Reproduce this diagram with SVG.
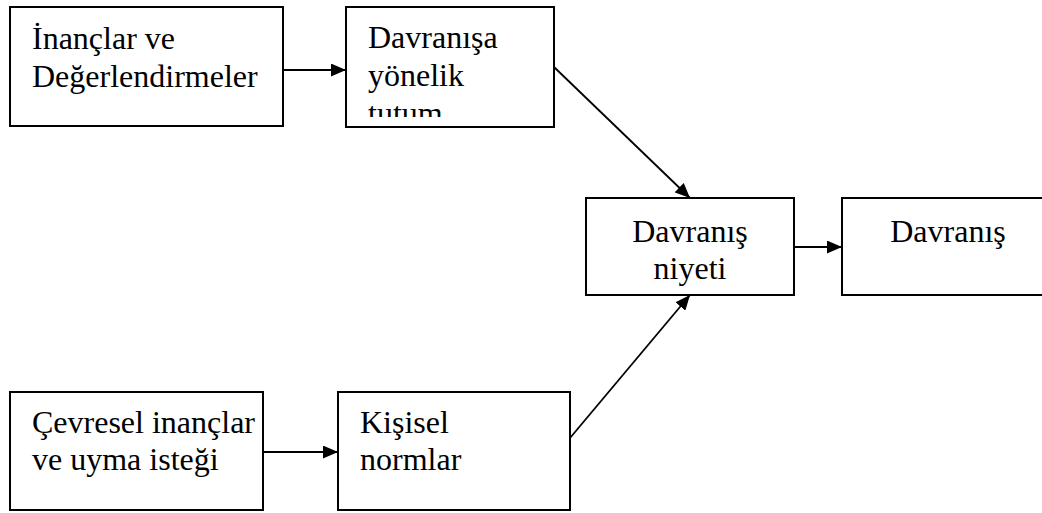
<svg xmlns="http://www.w3.org/2000/svg" width="1042" height="513" viewBox="0 0 1042 513">
  <style>
    .box { fill: #fff; stroke: #000; stroke-width: 2; }
    .lbl { font-family: "Liberation Serif", "Times New Roman", serif; font-size: 32px; fill: #000; }
    .mid { text-anchor: middle; }
    .link { fill: none; stroke: #000; stroke-width: 1.8; marker-end: url(#arrow); }
  </style>
  <defs>
    <marker id="arrow" viewBox="0 0 15 13" refX="15" refY="6.5" markerWidth="15" markerHeight="13" markerUnits="userSpaceOnUse" orient="auto">
      <path d="M0,0 L15,6.5 L0,13 Z" fill="#000"/>
    </marker>
    <clipPath id="attClip">
      <rect x="346" y="7" width="208" height="110"/>
    </clipPath>
  </defs>

  <rect width="1042" height="513" fill="#fff"/>

  <g id="beliefs">
    <rect class="box" x="10" y="7" width="273" height="119"/>
    <text class="lbl" x="32" y="49">İnançlar ve</text>
    <text class="lbl" x="32" y="87">Değerlendirmeler</text>
  </g>

  <g id="attitude">
    <rect class="box" x="346" y="7" width="208" height="120"/>
    <g clip-path="url(#attClip)">
      <text class="lbl" x="368" y="48">Davranışa</text>
      <text class="lbl" x="368" y="86">yönelik</text>
      <text class="lbl" x="368" y="124">tutum</text>
    </g>
  </g>

  <g id="intention">
    <rect class="box" x="586" y="198" width="208" height="97"/>
    <text class="lbl mid" x="690" y="242">Davranış</text>
    <text class="lbl mid" x="690" y="279">niyeti</text>
  </g>

  <g id="behaviour">
    <rect class="box" x="842" y="198" width="210" height="97"/>
    <text class="lbl mid" x="948" y="242">Davranış</text>
  </g>

  <g id="normative-beliefs">
    <rect class="box" x="10" y="392" width="253" height="118"/>
    <text class="lbl" x="32" y="433">Çevresel inançlar</text>
    <text class="lbl" x="32" y="470">ve uyma isteği</text>
  </g>

  <g id="subjective-norms">
    <rect class="box" x="338" y="392" width="232" height="118"/>
    <text class="lbl" x="360" y="433">Kişisel</text>
    <text class="lbl" x="360" y="470">normlar</text>
  </g>

  <g id="connectors">
    <line class="link" x1="283" y1="70" x2="346" y2="70"/>
    <line class="link" x1="554" y1="67" x2="690" y2="198"/>
    <line class="link" x1="794" y1="247" x2="842" y2="247"/>
    <line class="link" x1="263" y1="452" x2="338" y2="452"/>
    <line class="link" x1="570" y1="438" x2="690" y2="295"/>
  </g>
</svg>
